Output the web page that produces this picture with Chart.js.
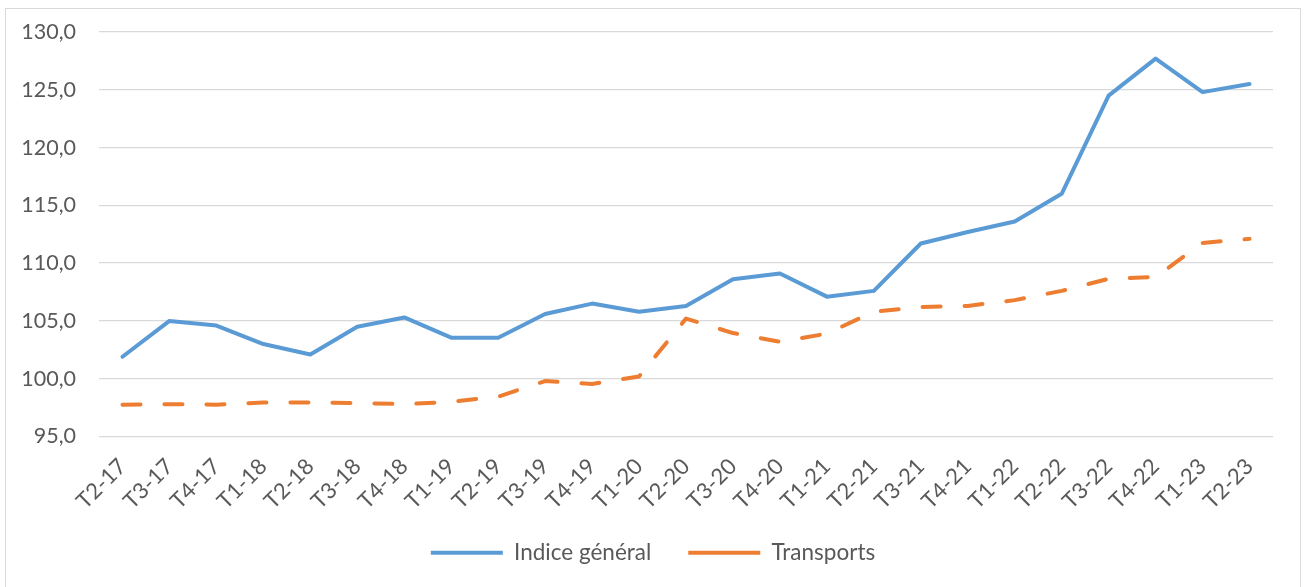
<!DOCTYPE html>
<html>
<head>
<meta charset="utf-8">
<script src="https://cdn.jsdelivr.net/npm/chart.js@4"></script>
<style>
  html, body { margin: 0; padding: 0; background: #fff; }
  #wrap { position: relative; width: 1306px; height: 587px; overflow: hidden; }
  #frame { position: absolute; left: 5px; top: 8px; width: 1296px; height: 600px; border: 1px solid #d9d9d9; box-sizing: border-box; pointer-events: none; }
  canvas { position: absolute; left: 0; top: 0; }
</style>
</head>
<body>
<div id="wrap">
  <div id="frame"></div>
  <canvas id="c" width="1306" height="587"></canvas>
</div>
<script>
const categories = ["T2-17","T3-17","T4-17","T1-18","T2-18","T3-18","T4-18","T1-19","T2-19","T3-19","T4-19","T1-20","T2-20","T3-20","T4-20","T1-21","T2-21","T3-21","T4-21","T1-22","T2-22","T3-22","T4-22","T1-23","T2-23"];
const indiceGeneral = [101.9,105.0,104.6,103.0,102.1,104.5,105.3,103.55,103.55,105.6,106.5,105.8,106.3,108.6,109.1,107.1,107.6,111.7,112.7,113.6,116.0,124.5,127.7,124.8,125.5];
const transports = [97.75,97.8,97.75,97.95,97.95,97.9,97.8,98.0,98.45,99.8,99.55,100.2,105.2,103.95,103.2,103.9,105.8,106.2,106.3,106.8,107.6,108.65,108.8,111.75,112.1];
const seriesNames = ["Indice général", "Transports"];
const yTicks = [95,100,105,110,115,120,125,130];

const textColor = '#595959';
const fontFamily = 'Lato, "Open Sans", sans-serif';

// Let tick labels overflow their scale boxes (no clipping)
const noLabelClip = {
  id: 'noLabelClip',
  beforeDraw(chart) {
    Object.values(chart.scales).forEach(s => { s._computeLabelArea = () => undefined; });
  }
};

new Chart(document.getElementById('c'), {
  type: 'line',
  data: {
    labels: categories,
    datasets: [
      { label: seriesNames[0], data: indiceGeneral, borderColor: '#5B9BD5', backgroundColor: '#5B9BD5', borderWidth: 4, pointRadius: 0, pointHoverRadius: 0, pointStyle: 'line', tension: 0, borderJoinStyle: 'round', borderCapStyle: 'round' },
      { label: seriesNames[1], data: transports, borderColor: '#ED7D31', backgroundColor: '#ED7D31', borderWidth: 4, borderDash: [18, 24], pointRadius: 0, pointHoverRadius: 0, pointStyle: 'line', tension: 0, borderJoinStyle: 'round', borderCapStyle: 'round' }
    ]
  },
  plugins: [noLabelClip],
  options: {
    responsive: false,
    animation: false,
    devicePixelRatio: 1,
    layout: { autoPadding: false, padding: { top: 32, right: 33, bottom: 13, left: 33 } },
    plugins: {
      title: { display: false },
      tooltip: { enabled: false },
      legend: {
        position: 'bottom',
        labels: { usePointStyle: true, pointStyle: 'line', pointStyleWidth: 72, padding: 37, color: textColor, font: { family: fontFamily, size: 22.5 } }
      }
    },
    scales: {
      x: {
        offset: true,
        grid: { display: false, drawTicks: false },
        border: { display: false },
        ticks: { color: textColor, font: { family: fontFamily, size: 22 }, minRotation: 45, maxRotation: 45, autoSkip: false, padding: 17 },
        afterFit: (s) => { s.height = 68; s.paddingLeft = 0; s.paddingRight = 0; }
      },
      y: {
        min: yTicks[0],
        max: yTicks[yTicks.length - 1],
        afterBuildTicks: (s) => { s.ticks = yTicks.map(v => ({ value: v })); },
        grid: { color: '#d9d9d9', lineWidth: 1.3, drawTicks: false },
        border: { display: false },
        ticks: { color: textColor, font: { family: fontFamily, size: 21.5 }, padding: 23, callback: (v) => Number(v).toFixed(1).replace('.', ',') },
        afterFit: (s) => { s.width = 66; s.paddingTop = 0; s.paddingBottom = 0; }
      }
    }
  }
});
</script>
</body>
</html>
